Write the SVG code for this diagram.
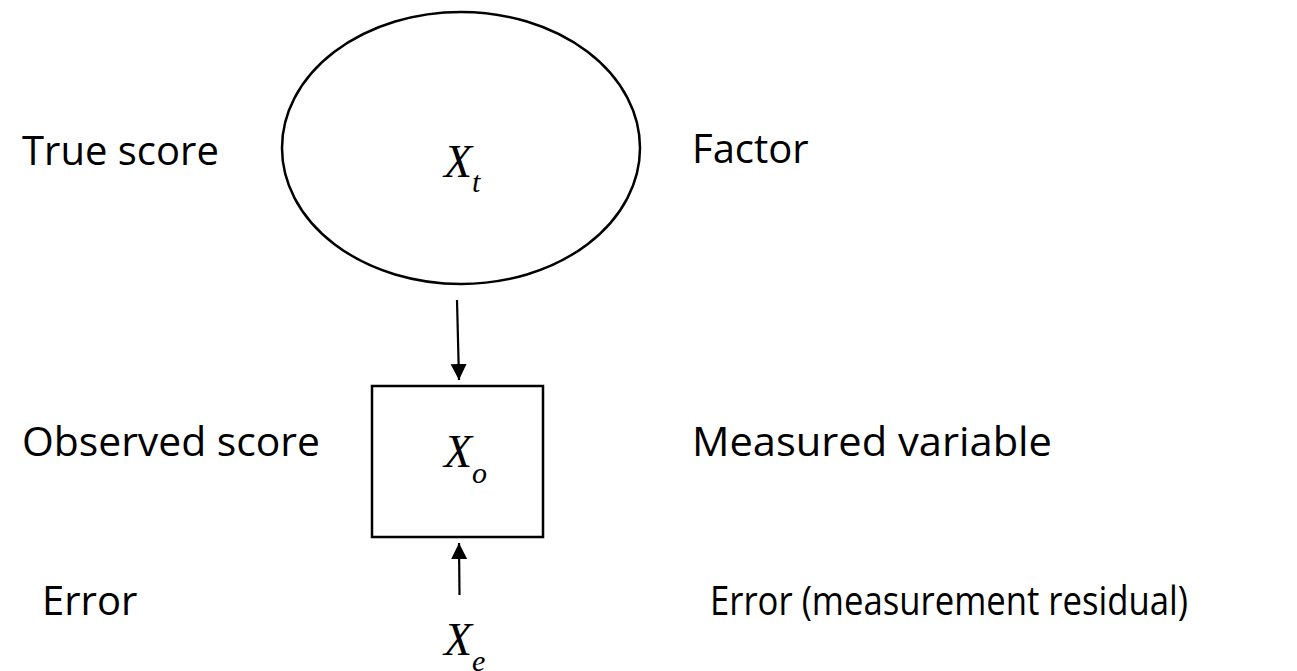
<svg xmlns="http://www.w3.org/2000/svg" width="1297" height="671" viewBox="0 0 1297 671">
<style>
.lbl{font-family:"Open Sans","Liberation Sans",sans-serif;font-size:40px;fill:#000}
.var{font-family:"Liberation Serif","Times New Roman",serif;font-style:italic;font-size:46px;fill:#000}
.sub{font-size:30px}
.shape{fill:#fff;stroke:#000;stroke-width:2.5}
.conn{stroke:#000;stroke-width:2.2;fill:none}
</style>
<defs>
<marker id="ah" markerUnits="userSpaceOnUse" markerWidth="18" markerHeight="17" refX="16" refY="8" orient="auto" viewBox="0 0 18 16">
<path d="M0,0 L16,8 L0,16 Z" fill="#000"/>
</marker>
</defs>
<rect width="1297" height="671" fill="#fff"/>
<g id="labels">
<text class="lbl" x="22" y="165">True score</text>
<text class="lbl" x="692" y="163">Factor</text>
<text class="lbl" x="22" y="456" textLength="298" lengthAdjust="spacingAndGlyphs">Observed score</text>
<text class="lbl" x="692" y="456" textLength="360" lengthAdjust="spacingAndGlyphs">Measured variable</text>
<text class="lbl" x="42" y="615">Error</text>
<text class="lbl" x="710" y="615" textLength="478" lengthAdjust="spacingAndGlyphs">Error (measurement residual)</text>
</g>
<g id="connectors">
<line class="conn" x1="457" y1="300" x2="459" y2="380" marker-end="url(#ah)"/>
<line class="conn" x1="459.5" y1="595" x2="459" y2="543" marker-end="url(#ah)"/>
</g>
<g id="node-true">
<ellipse class="shape" cx="461" cy="148" rx="179" ry="136"/>
<text class="var" x="444" y="177">X<tspan class="sub" dy="15">t</tspan></text>
</g>
<g id="node-observed">
<rect class="shape" x="372" y="386" width="171" height="151"/>
<text class="var" x="444" y="467">X<tspan class="sub" dy="16">o</tspan></text>
</g>
<g id="node-error">
<text class="var" x="444" y="655">X<tspan class="sub" dy="16">e</tspan></text>
</g>
</svg>
